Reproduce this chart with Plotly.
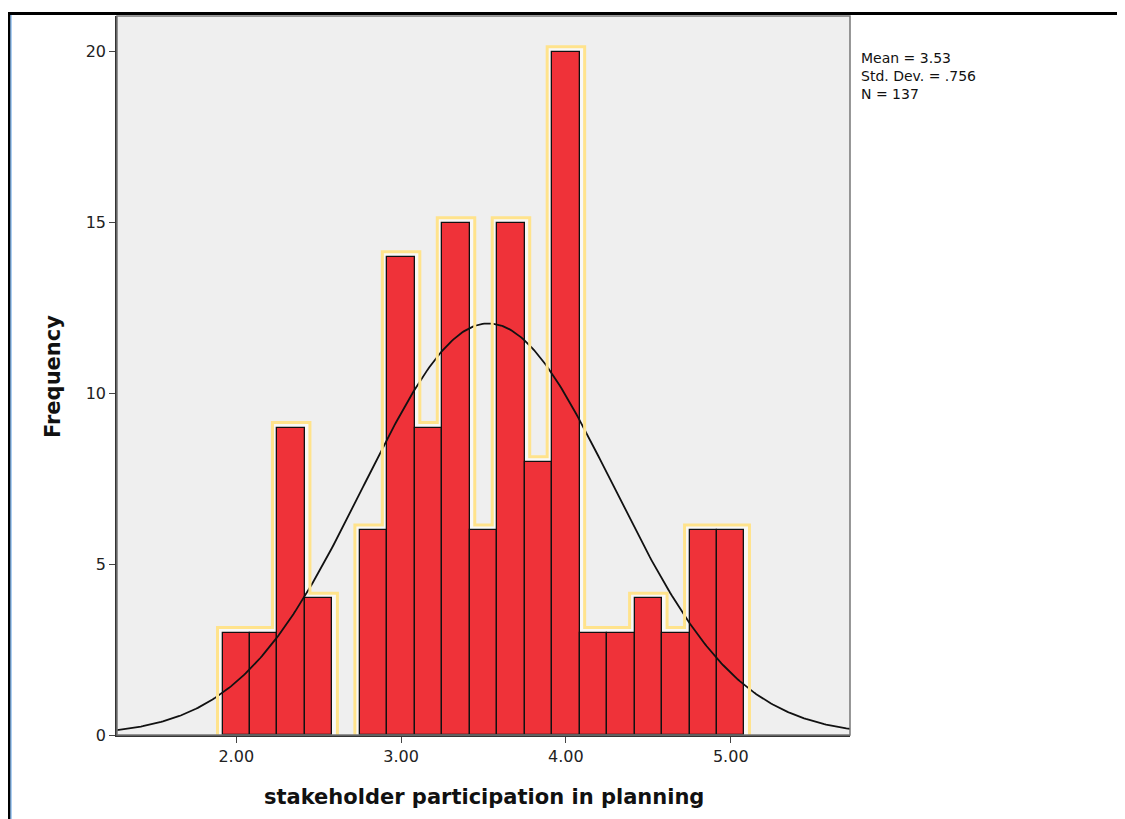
import numpy as np
import plotly.graph_objects as go

# ---- data ----
bin_centers = [2.0 + k / 6 for k in range(19)]
counts = [3, 3, 9, 4, 0, 6, 14, 9, 15, 6, 15, 8, 20, 3, 3, 4, 3, 6, 6]
bin_width = 1 / 6
mean_val = 3.53
sd_val = 0.756
n_val = 137
x_ticks = [2.0, 3.0, 4.0, 5.0]
x_tick_labels = ["2.00", "3.00", "4.00", "5.00"]
y_ticks = [0, 5, 10, 15, 20]
stats_lines = ["Mean = 3.53", "Std. Dev. = .756", "N = 137"]

# page has an 8px body margin
OFF = 8
W, H = 1125 - OFF, 819 - OFF
ML, MR, MT, MB = 117 - OFF, 275, 16 - OFF, 84
pw = W - ML - MR
ph = H - MT - MB
x_range = [1.2765, 5.7235]
y_range = [0, 21.05]
px_x = pw / (x_range[1] - x_range[0])
px_y = ph / (y_range[1] - y_range[0])

RED = "#EF3239"
YEL = "#FFE38C"

fig = go.Figure()

# ---- selection halo around contiguous groups of bars ----
def groups():
    gs, cur = [], []
    for c, n in zip(bin_centers, counts):
        if n > 0:
            cur.append((c, n))
        elif cur:
            gs.append(cur)
            cur = []
    if cur:
        gs.append(cur)
    return gs

dx = 5 / px_x
dy = 5 / px_y
halo_paths = []
for g in groups():
    xs, ys = [], []
    left = g[0][0] - bin_width / 2
    right = g[-1][0] + bin_width / 2
    xs += [left - dx, left - dx]
    ys += [-dy, g[0][1] + dy]
    for i in range(len(g) - 1):
        edge = g[i][0] + bin_width / 2
        h0, h1 = g[i][1], g[i + 1][1]
        v = edge + dx if h0 > h1 else (edge - dx if h1 > h0 else edge)
        xs += [v, v]
        ys += [h0 + dy, h1 + dy]
    xs += [right + dx, right + dx, left - dx]
    ys += [g[-1][1] + dy, -dy, -dy]
    halo_paths.append((xs, ys))

for xs, ys in halo_paths:
    path = "M " + " L ".join(f"{a},{b}" for a, b in zip(xs, ys)) + " Z"
    fig.add_shape(type="path", path=path, xref="x", yref="y", layer="below",
                  fillcolor="#F8F8F8", line=dict(width=0))

# ---- bars ----
bx = [c for c, n in zip(bin_centers, counts) if n > 0]
by = [n for n in counts if n > 0]
fig.add_trace(go.Bar(x=bx, y=by, width=bin_width,
                     marker=dict(color=RED, line=dict(color="#111111", width=1.3)),
                     showlegend=False))

# ---- normal curve ----
xc = np.linspace(x_range[0], x_range[1], 400)
yc = n_val * bin_width / (sd_val * np.sqrt(2 * np.pi)) * np.exp(-0.5 * ((xc - mean_val) / sd_val) ** 2)
fig.add_trace(go.Scatter(x=xc, y=yc, mode="lines", line=dict(color="#111111", width=1.8),
                         hoverinfo="skip", showlegend=False))

for xs, ys in halo_paths:
    fig.add_trace(go.Scatter(x=xs, y=ys, mode="lines", line=dict(color=YEL, width=3),
                             hoverinfo="skip", showlegend=False, cliponaxis=False))

fig.update_layout(
    width=W, height=H,
    margin=dict(l=ML, r=MR, t=MT, b=MB),
    paper_bgcolor="white", plot_bgcolor="#EFEFEF",
    bargap=0,
    font=dict(family="DejaVu Sans", size=16, color="#222222"),
    xaxis=dict(range=x_range, tickvals=x_ticks, ticktext=x_tick_labels, ticks="outside",
               ticklen=6, tickcolor="#444444", showgrid=False, zeroline=False,
               showline=True, linecolor="#333333", linewidth=1.5, mirror=False,
               tickfont=dict(size=16, color="#222222")),
    yaxis=dict(range=y_range, tickvals=y_ticks, ticks="outside", ticklen=6,
               tickcolor="#444444", showgrid=False, zeroline=False,
               showline=True, linecolor="#333333", linewidth=1.5,
               tickfont=dict(size=16, color="#222222")),
)

# plot frame (top/right) and outer frame
fig.add_shape(type="rect", xref="paper", yref="paper", x0=0, x1=1, y0=0, y1=1,
              line=dict(color="#777777", width=1.5), layer="above")
top_y = (H - MB - (13.5 - OFF)) / ph
fig.add_shape(type="line", xref="paper", yref="paper",
              x0=(9 - OFF - ML) / pw, x1=(W + 5 - ML) / pw,
              y0=top_y, y1=top_y, line=dict(color="black", width=3))
fig.add_shape(type="line", xref="paper", yref="paper",
              x0=(9 - OFF - ML) / pw, x1=(9 - OFF - ML) / pw,
              y0=(H - MB - (12 - OFF)) / ph, y1=-0.2,
              line=dict(color="black", width=3))
fig.add_shape(type="line", xref="paper", yref="paper",
              x0=(11 - OFF - ML) / pw, x1=(11 - OFF - ML) / pw,
              y0=(H - MB - (15 - OFF)) / ph, y1=-0.2,
              line=dict(color="#5AA0E8", width=1))

# axis titles
fig.add_annotation(text="<b>stakeholder participation in planning</b>", xref="paper", yref="paper",
                   x=(484 - OFF - ML) / pw, y=(H - MB - (797 - OFF)) / ph, showarrow=False,
                   font=dict(family="DejaVu Sans", size=21, color="#111111"),
                   xanchor="center", yanchor="middle")
fig.add_annotation(text="<b>Frequency</b>", xref="paper", yref="paper", textangle=-90,
                   x=(53 - OFF - ML) / pw, y=(H - MB - (377 - OFF)) / ph, showarrow=False,
                   font=dict(family="DejaVu Sans", size=21, color="#111111"),
                   xanchor="center", yanchor="middle")
fig.add_annotation(text="<br>".join(stats_lines), xref="paper", yref="paper",
                   x=(859 - OFF - ML) / pw, y=(H - MB - (76 - OFF)) / ph, showarrow=False,
                   font=dict(family="DejaVu Sans", size=14, color="#111111"),
                   xanchor="left", yanchor="middle", align="left")

fig.write_html("out.html")
